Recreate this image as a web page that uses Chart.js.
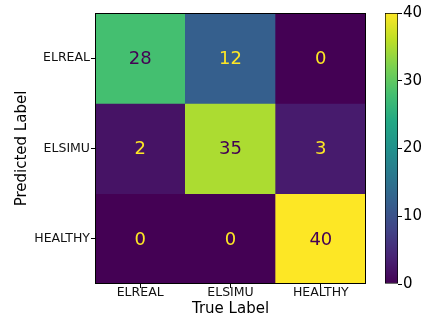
<!DOCTYPE html>
<html>
<head>
<meta charset="utf-8">
<script src="https://cdn.jsdelivr.net/npm/chart.js@4"></script>
<style>
  html, body { margin: 0; padding: 0; background: #fff; }
  #wrap { position: relative; width: 425px; height: 320px; overflow: hidden; }
  #matrix { position: absolute; left: 0; top: 0; }
  #cbar { position: absolute; left: 375px; top: 0; }
</style>
</head>
<body>
<div id="wrap">
  <canvas id="matrix" width="375" height="320"></canvas>
  <canvas id="cbar" width="50" height="320"></canvas>
</div>
<script>
// Class names on both axes
const trueLabels = ['ELREAL', 'ELSIMU', 'HEALTHY'];
const predLabels = ['ELREAL', 'ELSIMU', 'HEALTHY'];

// Counts per predicted class (one row each), columns follow trueLabels
const predElreal  = [28, 12, 0];
const predElsimu  = [2, 35, 3];
const predHealthy = [0, 0, 40];

// Colour scale range and colourbar ticks
const colorMin = 0;
const colorMax = 40;
const colorbarTicks = [0, 10, 20, 30, 40];

const FONT = 'DejaVu Sans';

// viridis colormap stops (t = 0, 0.1, ... 1)
const VIRIDIS = ['#440154', '#482475', '#414487', '#355f8d', '#2a788e',
                 '#21918c', '#22a884', '#44bf70', '#7ad151', '#bddf26', '#fde725'];

function hexToRgb(h) {
  return [parseInt(h.slice(1, 3), 16), parseInt(h.slice(3, 5), 16), parseInt(h.slice(5, 7), 16)];
}
function viridis(t) {
  t = Math.min(1, Math.max(0, t));
  const pos = t * (VIRIDIS.length - 1);
  const i = Math.min(Math.floor(pos), VIRIDIS.length - 2);
  const f = pos - i;
  const a = hexToRgb(VIRIDIS[i]), b = hexToRgb(VIRIDIS[i + 1]);
  const c = a.map((v, k) => Math.round(v + (b[k] - v) * f));
  return `rgb(${c[0]},${c[1]},${c[2]})`;
}
const norm = v => (v - colorMin) / (colorMax - colorMin);

const rows = [predElreal, predElsimu, predHealthy];

// One floating-bar dataset per row; each bar spans its row index +/- 0.5
const datasets = rows.map((vals, r) => ({
  label: predLabels[r],
  data: vals.map(() => [r - 0.5, r + 0.5]),
  counts: vals,
  backgroundColor: vals.map(v => viridis(norm(v))),
  borderWidth: 0,
  barPercentage: 1,
  categoryPercentage: 1,
  grouped: false
}));

// Frame around the plotting area
const framePlugin = {
  id: 'frame',
  afterDatasetsDraw(chart) {
    const { ctx, chartArea: a } = chart;
    ctx.save();
    ctx.strokeStyle = '#000';
    ctx.lineWidth = 1;
    ctx.strokeRect(Math.round(a.left) + 0.5, Math.round(a.top) + 0.5,
                   Math.round(a.right - a.left) - 1, Math.round(a.bottom - a.top) - 1);
    ctx.restore();
  }
};

// Count written in the middle of each cell
const cellTextPlugin = {
  id: 'cellText',
  afterDatasetsDraw(chart) {
    const { ctx } = chart;
    ctx.save();
    ctx.font = `18px "${FONT}"`;
    ctx.textAlign = 'center';
    ctx.textBaseline = 'middle';
    chart.data.datasets.forEach((ds, di) => {
      const meta = chart.getDatasetMeta(di);
      meta.data.forEach((bar, j) => {
        const v = ds.counts[j];
        ctx.fillStyle = norm(v) < 0.5 ? '#fde725' : '#440154';
        ctx.fillText(String(v), bar.x, (bar.y + bar.base) / 2 + 1);
      });
    });
    ctx.restore();
  }
};

const axisGrid = {
  display: true,
  drawOnChartArea: false,
  drawTicks: true,
  tickLength: 4,
  color: '#000',
  lineWidth: 1,
  offset: false
};

new Chart(document.getElementById('matrix'), {
  type: 'bar',
  data: { labels: trueLabels, datasets },
  options: {
    responsive: false,
    animation: false,
    devicePixelRatio: 1,
    layout: { padding: { top: 13, right: 9, bottom: 2, left: 0 } },
    plugins: { legend: { display: false }, tooltip: { enabled: false } },
    scales: {
      x: {
        type: 'category',
        offset: true,
        grid: axisGrid,
        border: { display: false },
        ticks: { color: '#111', font: { family: FONT, size: 12.5 }, padding: -3, maxRotation: 0, autoSkip: false },
        title: { display: true, text: 'True Label', color: '#000', font: { family: FONT, size: 15 }, padding: 0 },
        afterFit: s => { s.height = 34; }
      },
      y: {
        type: 'linear',
        reverse: true,
        min: -0.5,
        max: 2.5,
        afterBuildTicks: s => { s.ticks = predLabels.map((_, i) => ({ value: i })); },
        grid: axisGrid,
        border: { display: false },
        ticks: {
          color: '#111',
          font: { family: FONT, size: 12.5 },
          padding: 1,
          autoSkip: false,
          callback: v => predLabels[v]
        },
        title: { display: true, text: 'Predicted Label', color: '#000', font: { family: FONT, size: 15 }, padding: { top: 13, bottom: 0 } },
        afterFit: s => { s.width = 95; }
      }
    }
  },
  plugins: [cellTextPlugin, framePlugin]
});

// Colourbar: a single floating bar filled with the colormap
new Chart(document.getElementById('cbar'), {
  type: 'bar',
  data: {
    labels: [''],
    datasets: [{
      data: [[colorMin, colorMax]],
      backgroundColor: ctx => {
        const area = ctx.chart.chartArea;
        if (!area) return VIRIDIS[0];
        const g = ctx.chart.ctx.createLinearGradient(0, area.bottom, 0, area.top);
        VIRIDIS.forEach((c, i) => g.addColorStop(i / (VIRIDIS.length - 1), c));
        return g;
      },
      borderColor: '#000',
      borderWidth: 1,
      borderSkipped: false,
      barPercentage: 1,
      categoryPercentage: 1
    }]
  },
  options: {
    responsive: false,
    animation: false,
    devicePixelRatio: 1,
    layout: { padding: { top: 13, right: 0, bottom: 36, left: 10 } },
    plugins: { legend: { display: false }, tooltip: { enabled: false } },
    scales: {
      x: { display: false },
      y: {
        position: 'right',
        min: colorMin,
        max: colorMax,
        afterBuildTicks: s => { s.ticks = colorbarTicks.map(v => ({ value: v })); },
        grid: { display: true, drawOnChartArea: false, drawTicks: true, tickLength: 4, color: '#000' },
        border: { display: false },
        ticks: { color: '#000', font: { family: FONT, size: 15 }, padding: 1 },
        afterFit: s => { s.width = 27; }
      }
    }
  }
});
</script>
</body>
</html>
